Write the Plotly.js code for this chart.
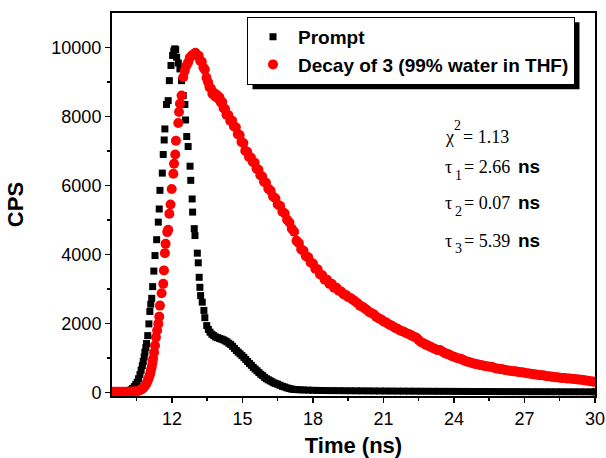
<!DOCTYPE html>
<html>
<head>
<meta charset="utf-8">
<script src="https://cdn.plot.ly/plotly-3.0.1.min.js"></script>
<style>html,body{margin:0;padding:0;background:#fff;}#chart{width:606px;height:458px;}</style>
</head>
<body>
<div id="chart"></div>
<script>
// Prompt (instrument response) – Time (ns) / CPS
const promptTime = [9.5,9.6,9.7,9.8,9.9,10.0,10.1,10.2,10.27,10.33,10.4,10.46,10.52,10.58,10.64,10.69,10.74,10.78,10.82,10.85,10.89,10.92,10.97,11.02,11.06,11.10,11.14,11.18,11.23,11.28,11.35,11.42,11.46,11.49,11.59,11.63,11.67,11.70,11.77,11.84,11.89,11.96,12.03,12.08,12.12,12.16,12.20,12.27,12.34,12.41,12.48,12.55,12.58,12.63,12.69,12.77,12.80,12.86,12.88,12.95,12.98,13.08,13.12,13.16,13.19,13.22,13.29,13.36,13.40,13.48,13.55,13.62,13.70,13.78,13.86,13.94,14.02,14.10,14.18,14.26,14.34,14.42,14.50,14.58,14.66,14.74,14.82,14.90,14.98,15.06,15.14,15.22,15.30,15.38,15.46,15.54,15.62,15.70,15.78,15.86,15.94,16.02,16.10,16.18,16.26,16.34,16.42,16.50,16.60,16.70,16.80,16.90,17.00,17.10,17.20,17.30,17.45,17.6,17.8,18.0,18.2,18.4,18.6,18.85,19.1,19.35,19.6,19.85,20.1,20.35,20.6,20.85,21.1,21.35,21.6,21.85,22.1,22.35,22.6,22.85,23.1,23.35,23.6,23.85,24.1,24.35,24.6,24.85,25.1,25.35,25.6,25.85,26.1,26.35,26.6,26.85,27.1,27.35,27.6,27.85,28.1,28.35,28.6,28.85,29.1,29.35,29.6,29.85,30.0];
const promptCPS = [10,10,10,15,15,20,30,50,80,120,170,230,300,400,520,650,780,900,1030,1170,1300,1420,1650,1990,2350,2560,2730,3070,3520,3970,4430,4940,5320,5860,6360,6900,7320,7640,8350,8460,9040,9480,9770,9900,9960,9940,9720,9550,9380,9040,8610,8350,7900,7420,7130,6560,6150,5610,5230,4750,4550,4040,3760,3340,3050,2810,2620,2380,2170,1940,1830,1750,1690,1650,1610,1590,1570,1550,1530,1500,1470,1430,1390,1340,1280,1220,1170,1120,1070,1020,960,900,840,790,730,680,630,580,530,490,440,400,370,340,310,280,260,240,210,180,160,135,115,100,90,85,80,75,70,65,62,60,58,56,55,53,52,50,49,48,46,45,44,43,42,41,40,39,38,37,36,35,35,34,33,32,32,31,30,30,29,28,28,27,27,26,26,25,25,24,24,23,23,22,22,21,21,20,20];

// Decay of 3 (99% water in THF)
const decayTime = [9.5,9.6,9.7,9.8,9.9,10.0,10.1,10.2,10.3,10.4,10.5,10.58,10.65,10.72,10.78,10.84,10.9,10.95,11.0,11.04,11.08,11.11,11.14,11.17,11.20,11.24,11.28,11.32,11.37,11.42,11.46,11.49,11.56,11.63,11.66,11.70,11.73,11.80,11.84,11.89,11.94,11.99,12.06,12.09,12.14,12.17,12.27,12.30,12.34,12.41,12.48,12.55,12.62,12.69,12.76,12.84,12.92,
  13.00,13.08,13.14,13.20,13.27,13.34,13.40,13.47,13.54,13.60,13.66,13.72,13.78,13.84,13.90,13.96,14.02,14.08,14.14,14.20,14.26,14.32,14.40,14.48,14.56,14.64,14.72,14.80,14.88,14.96,15.04,15.12,15.20,15.28,15.36,15.44,15.52,15.60,15.68,15.76,15.84,15.92,16.00,16.10,16.20,16.30,16.40,16.50,16.60,16.70,16.80,16.90,17.00,17.10,17.20,17.30,17.40,17.50,17.60,17.70,17.80,17.90,18.00,18.1,18.2,18.3,18.4,18.5,18.6,18.7,18.8,18.9,19.0,
  19.1,19.2,19.3,19.4,19.5,19.6,19.7,19.8,19.9,20.0,20.1,20.2,20.3,20.4,20.5,20.6,20.7,20.8,20.9,21.0,21.1,21.2,21.3,21.4,21.5,21.6,21.7,21.8,21.9,22.0,22.1,22.2,22.3,22.4,22.5,22.6,22.7,22.8,22.9,23.0,23.1,23.2,23.3,23.4,23.5,23.6,23.7,23.8,23.9,24.0,24.1,24.2,24.3,24.4,24.5,24.6,24.7,24.8,24.9,25.0,25.1,25.2,25.3,25.4,25.5,25.6,25.7,25.8,25.9,26.0,26.1,26.2,26.3,26.4,26.5,26.6,26.7,26.8,26.9,27.0,27.1,27.2,27.3,27.4,27.5,27.6,27.7,27.8,27.9,28.0,28.1,28.2,28.3,28.4,28.5,28.6,28.7,28.8,28.9,29.0,29.1,29.2,29.3,29.4,29.5,29.6,29.7,29.8,29.9,30.0];
const decayCPS = [25,25,25,25,25,25,25,25,28,32,40,55,75,100,135,180,240,310,390,470,560,650,740,860,980,1160,1360,1600,1800,1990,2200,2520,2880,3150,3540,4040,4310,4650,4720,5180,5450,5900,6340,6630,6900,7300,7810,8130,8370,8610,9140,9330,9480,9570,9700,9770,9800,
  9850,9770,9760,9620,9590,9420,9360,9120,8990,8850,8810,8660,8690,8580,8630,8520,8560,8410,8420,8240,8220,8050,8040,7880,7880,7710,7690,7490,7460,7260,7230,7010,6980,6830,6810,6680,6660,6490,6460,6300,6260,6110,6080,5910,5850,5680,5630,5450,5410,5240,5190,5010,4930,4750,4660,4400,4330,4150,4110,3950,3920,3770,3740,3590,3570,3420,3400,3270,3270,3150,3150,3040,3040,
  2950,2930,2850,2830,2760,2740,2690,2640,2590,2520,2490,2440,2390,2330,2300,2260,2190,2150,2120,2060,2040,1990,1950,1920,1870,1850,1800,1780,1750,1710,1690,1650,1620,1590,1520,1460,1430,1390,1360,1330,1290,1260,1230,1230,1190,1150,1120,1100,1060,1040,1010,990,980,940,910,890,870,850,830,820,800,790,770,760,750,750,720,700,690,680,670,650,640,630,620,620,600,590,585,575,560,550,540,530,520,510,500,500,480,470,465,455,445,440,430,425,420,410,405,400,395,385,380,370,365,350,345,330,320,310];

const xTickVals = [12,15,18,21,24,27,30];
const xMinorVals = [10.5,13.5,16.5,19.5,22.5,25.5,28.5];
const yTickVals = [0,2000,4000,6000,8000,10000];
const yMinorVals = [1000,3000,5000,7000,9000];

const seriesNames = ['Prompt', 'Decay of 3 (99% water in THF)'];
// fit results: symbol, super/subscript, value, unit
const fitSymbols = ['χ', 'τ', 'τ', 'τ'];
const fitIndex = ['2', '1', '2', '3'];
const fitValues = ['= 1.13', '= 2.66', '= 0.07', '= 5.39'];
const fitUnits = ['', 'ns', 'ns', 'ns'];

const sans = 'Liberation Sans, Arial, sans-serif';
const serif = 'Liberation Serif, Times New Roman, serif';
const axisFont = {family: sans, size: 18, color: '#000'};
const boldFont = {family: sans, size: 22, color: '#000', weight: 'bold'};

const traces = [
  {
    x: promptTime, y: promptCPS, type: 'scatter', mode: 'markers', name: seriesNames[0],
    marker: {symbol: 'square', size: 7, color: '#000'}, legendgroup: 'a'
  },
  {
    x: decayTime, y: decayCPS, type: 'scatter', mode: 'markers', name: seriesNames[1],
    marker: {symbol: 'circle', size: 10, color: '#ff0000'}, legendgroup: 'b'
  }
];

// text placement (paper fractions) for the fit block
const lineY = [0.676, 0.598, 0.505, 0.405];
const idxY = [0.705, 0.577, 0.483, 0.386];
const symX = 0.686, valX = [0.722, 0.725, 0.725, 0.725], idxX = [0.704, 0.706, 0.706, 0.706], unitX = 0.836;
const mainFont = {family: serif, size: 18, color: '#000'};
const idxFont = {family: serif, size: 14, color: '#000'};
const unitFont = {family: sans, size: 19, color: '#000', weight: 'bold'};

const annotations = [];
fitSymbols.forEach((s, i) => {
  const base = {xref: 'paper', yref: 'paper', xanchor: 'left', yanchor: 'middle', showarrow: false};
  annotations.push(Object.assign({}, base, {x: symX, y: lineY[i], text: s, font: mainFont}));
  annotations.push(Object.assign({}, base, {x: idxX[i], y: idxY[i], text: fitIndex[i], font: idxFont}));
  annotations.push(Object.assign({}, base, {x: valX[i], y: lineY[i], text: fitValues[i], font: mainFont}));
  if (fitUnits[i]) annotations.push(Object.assign({}, base, {x: unitX, y: lineY[i], text: fitUnits[i], font: unitFont}));
});

const layout = {
  width: 606, height: 458,
  margin: {l: 112, r: 11, t: 13, b: 62},
  paper_bgcolor: '#fff', plot_bgcolor: '#fff',
  showlegend: true,
  legend: {
    x: 0.2795, y: 0.99, xanchor: 'left', yanchor: 'top',
    bgcolor: '#fff', bordercolor: '#000', borderwidth: 1,
    font: {family: sans, size: 19, color: '#000', weight: 'bold'},
    tracegroupgap: 0, itemwidth: 40
  },
  xaxis: {
    range: [9.45, 30], tickvals: xTickVals, ticktext: xTickVals.map(String),
    showline: true, mirror: true, linecolor: '#000', linewidth: 2,
    ticks: 'outside', ticklen: 5, tickwidth: 1.5, tickcolor: '#000',
    minor: {ticks: 'outside', ticklen: 3, tickwidth: 1.5, tickcolor: '#000', tickvals: xMinorVals},
    showgrid: false, zeroline: false, tickfont: axisFont,
    title: {text: 'Time (ns)', font: boldFont, standoff: 16}
  },
  yaxis: {
    range: [-100, 11000], tickvals: yTickVals, ticktext: yTickVals.map(String),
    showline: true, mirror: true, linecolor: '#000', linewidth: 2,
    ticks: 'outside', ticklen: 5, tickwidth: 1.5, tickcolor: '#000',
    minor: {ticks: 'outside', ticklen: 3, tickwidth: 1.5, tickcolor: '#000', tickvals: yMinorVals},
    showgrid: false, zeroline: false, tickfont: axisFont,
    title: {text: 'CPS', font: boldFont, standoff: 22}
  },
  annotations: annotations
};

Plotly.newPlot('chart', traces, layout, {displayModeBar: false, staticPlot: true}).then(function (gd) {
  // drop shadow behind the legend box, offset 5 px right/down
  const bg = gd.querySelector('.legend rect.bg');
  if (!bg) return;
  const r = bg.getBoundingClientRect();
  const g = gd.getBoundingClientRect();
  const m = gd._fullLayout._size;
  const off = 5;
  const px2x = p => (p - g.left - m.l) / m.w;
  const px2y = p => (m.t + m.h - (p - g.top)) / m.h;
  return Plotly.relayout(gd, {shapes: [{
    type: 'rect', xref: 'paper', yref: 'paper', layer: 'above',
    x0: px2x(r.left + off), x1: px2x(r.right + off),
    y0: px2y(r.bottom + off), y1: px2y(r.top + off),
    fillcolor: '#000', line: {width: 0}
  }]});
});
</script>
</body>
</html>
